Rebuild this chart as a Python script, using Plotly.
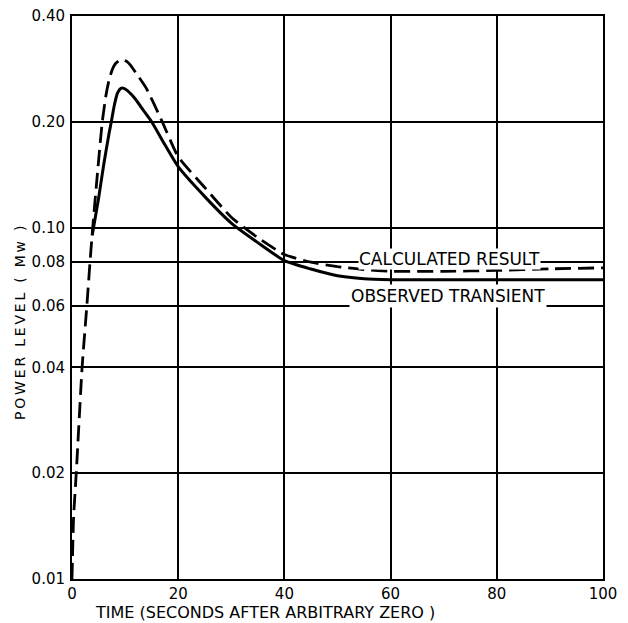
import math
import plotly.graph_objects as go

# Observed transient (solid)
observed_t = [3.8, 5, 6, 7, 7.4, 8, 8.6, 9.2, 9.8, 10.5, 11.2, 12, 13.5, 15, 17.5, 20, 25, 30, 35, 40, 45, 50,
              55, 60, 70, 80, 90, 100]
observed_p = [0.095, 0.121, 0.152, 0.186, 0.2, 0.224, 0.242, 0.249, 0.249, 0.245, 0.239, 0.2315, 0.215,
              0.2, 0.172, 0.149, 0.1225, 0.103, 0.0906, 0.0805, 0.0762, 0.0729, 0.0715, 0.0711, 0.0710,
              0.0710, 0.0710, 0.0710]

# Calculated result (dashed)
calculated_t = [0, 0.3, 0.8, 1.9, 2.8, 3.4, 3.9, 4.8, 5.7, 6.4, 7, 7.6, 8.2, 8.9, 9.6, 10.3, 11, 12, 14, 17,
                20, 25, 30, 35, 40, 45, 50, 55, 60, 70, 80, 90, 100]
calculated_p = [0.01, 0.015, 0.02, 0.04, 0.06, 0.08, 0.10, 0.143, 0.2, 0.238, 0.264, 0.282, 0.293, 0.299,
                0.300, 0.297, 0.29, 0.276, 0.249, 0.2, 0.159, 0.130, 0.107, 0.0936, 0.0838, 0.0797,
                0.0774, 0.0759, 0.0751, 0.0751, 0.0755, 0.0763, 0.0768]

x_ticks = [0, 20, 40, 60, 80, 100]
y_ticks = [0.01, 0.02, 0.04, 0.06, 0.08, 0.10, 0.20, 0.40]
y_tick_text = ["0.01", "0.02", "0.04", "0.06", "0.08", "0.10", "0.20", "0.40"]

FONT = "DejaVu Sans"
THIN = "\u2009"
y_title = THIN.join("POWER LEVEL ( Mw )")

fig = go.Figure()
fig.add_trace(go.Scatter(x=calculated_t, y=calculated_p, mode="lines",
                         line=dict(color="black", width=2.8, dash="16px,7px", shape="spline", smoothing=0.5),
                         showlegend=False))
fig.add_trace(go.Scatter(x=observed_t, y=observed_p, mode="lines",
                         line=dict(color="black", width=3, shape="spline", smoothing=0.5),
                         showlegend=False))

fig.update_xaxes(range=[0, 100], tickvals=x_ticks, showgrid=True, gridcolor="black", gridwidth=1.5,
                 showline=True, linecolor="black", linewidth=2, mirror=True, zeroline=False,
                 automargin=False, ticks="", ticklabeloverflow="allow",
                 tickfont=dict(family=FONT, size=15, color="black"))
fig.update_yaxes(type="log", range=[-2, math.log10(0.4)], tickvals=y_ticks, ticktext=y_tick_text,
                 showgrid=True, gridcolor="black", gridwidth=1.5,
                 showline=True, linecolor="black", linewidth=2, mirror=True, zeroline=False,
                 automargin=False, ticks="", ticklabelstandoff=2, ticklabeloverflow="allow",
                 tickfont=dict(family=FONT, size=15, color="black"))

fig.add_annotation(text="CALCULATED RESULT", x=71, y=math.log10(0.0815), xref="x", yref="y",
                   showarrow=False, font=dict(family=FONT, size=17, color="black"),
                   bgcolor="white", borderpad=0)
fig.add_annotation(text="OBSERVED TRANSIENT", x=70.8, y=math.log10(0.0638), xref="x", yref="y",
                   showarrow=False, font=dict(family=FONT, size=17, color="black"),
                   bgcolor="white", borderpad=1)
fig.add_annotation(text="TIME (SECONDS AFTER ARBITRARY ZERO )", x=0.364, y=-0.059, xref="paper", yref="paper",
                   showarrow=False, xanchor="center", yanchor="middle",
                   font=dict(family=FONT, size=16, color="black"))
fig.add_annotation(text=y_title, x=-0.098, y=0.4565, xref="paper", yref="paper",
                   showarrow=False, textangle=-90, xanchor="center", yanchor="middle",
                   font=dict(family=FONT, size=14, color="black"))

# page body has an 8px margin, so the figure is sized to fit the 628x623 window
fig.update_layout(width=620, height=615, margin=dict(l=64, r=25, t=8, b=44),
                  paper_bgcolor="white", plot_bgcolor="white")

fig.write_html("out.html")
